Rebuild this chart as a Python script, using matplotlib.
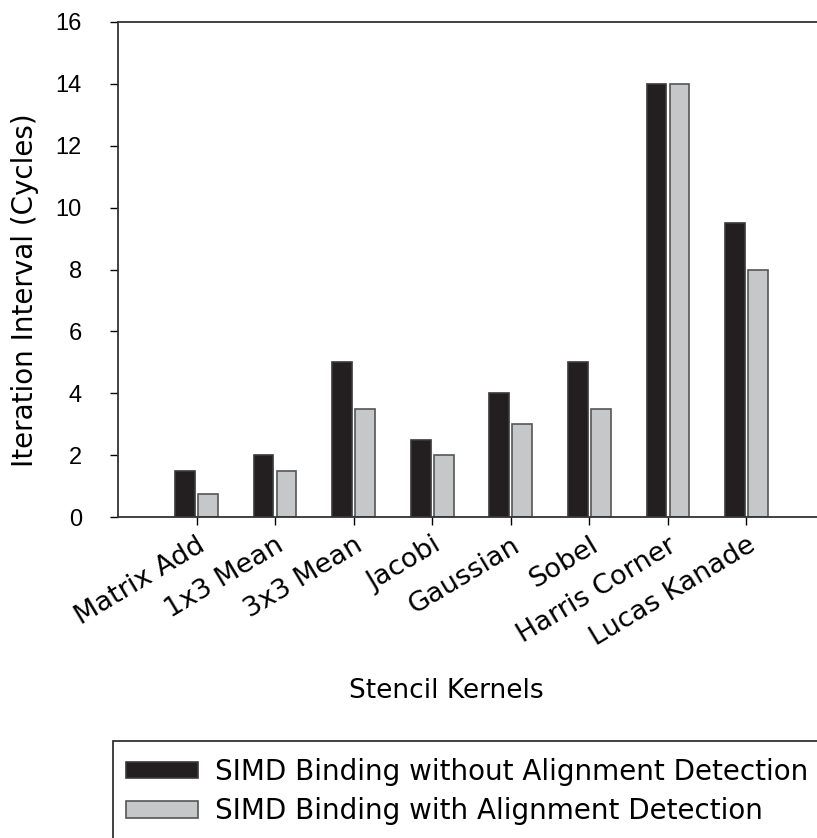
import matplotlib
matplotlib.use("Agg")
import matplotlib.pyplot as plt
from matplotlib.patches import Rectangle
import numpy as np

plt.rcParams['font.family'] = ['DejaVu Sans']

categories = ["Matrix Add", "1x3 Mean", "3x3 Mean", "Jacobi", "Gaussian", "Sobel",
              "Harris Corner", "Lucas Kanade"]
without_align = [1.5, 2, 5, 2.5, 4, 5, 14, 9.5]
with_align = [0.75, 1.5, 3.5, 2, 3, 3.5, 14, 8]
series_labels = ["SIMD Binding without Alignment Detection",
                 "SIMD Binding with Alignment Detection"]
yticks = [0, 2, 4, 6, 8, 10, 12, 14, 16]

W, H = 817, 838
fig = plt.figure(figsize=(W / 100, H / 100), dpi=100)
ax = fig.add_axes([118 / W, 1 - 517 / H, 707 / W, (517 - 22) / H])

x = np.arange(len(categories))
bw = 0.25
b1 = ax.bar(x - 0.146, without_align, bw, color='#231f20', edgecolor='#3a3a3a', linewidth=1.2,
            label=series_labels[0])
b2 = ax.bar(x + 0.146, with_align, bw, color='#c6c7c8', edgecolor='#555555', linewidth=1.2,
            label=series_labels[1])

ax.set_xlim(-1, 8)
ax.set_ylim(0, 16)
ax.set_yticks(yticks)
ax.set_yticklabels([str(v) for v in yticks], family='Liberation Sans', fontsize=17)
ax.set_xticks(x)
ax.set_xticklabels(categories, rotation=31, ha='right', rotation_mode='anchor', fontsize=19.5)
ax.tick_params(axis='y', direction='out', length=6, width=1, pad=20)
ax.tick_params(axis='x', direction='out', length=6, width=1, pad=5)
for side in ['left', 'bottom', 'top']:
    ax.spines[side].set_linewidth(1.3)
    ax.spines[side].set_color('#333333')
ax.spines['right'].set_visible(False)

fig.text(25 / W, 1 - 290 / H, "Iteration Interval (Cycles)", fontsize=20,
         rotation=90, ha='center', va='center')
fig.text(446 / W, 1 - 691 / H, "Stencil Kernels", fontsize=19, ha='center', va='center')

# legend box (cropped at right and bottom like the reference)
rect = Rectangle((113 / W, -0.1), 1.0, 0.1 + (1 - 741 / H), transform=fig.transFigure,
                 facecolor='white', edgecolor='#333333', linewidth=1.3)
fig.patches.append(rect)
fig.legend(handles=[b1, b2], labels=series_labels, loc='upper left',
           bbox_to_anchor=(126 / W, 1 - 758 / H), frameon=False, fontsize=20,
           handlelength=2.6, handleheight=0.54, handletextpad=0.6, borderpad=0,
           borderaxespad=0, labelspacing=0.4)

fig.savefig("out.png", dpi=100)
